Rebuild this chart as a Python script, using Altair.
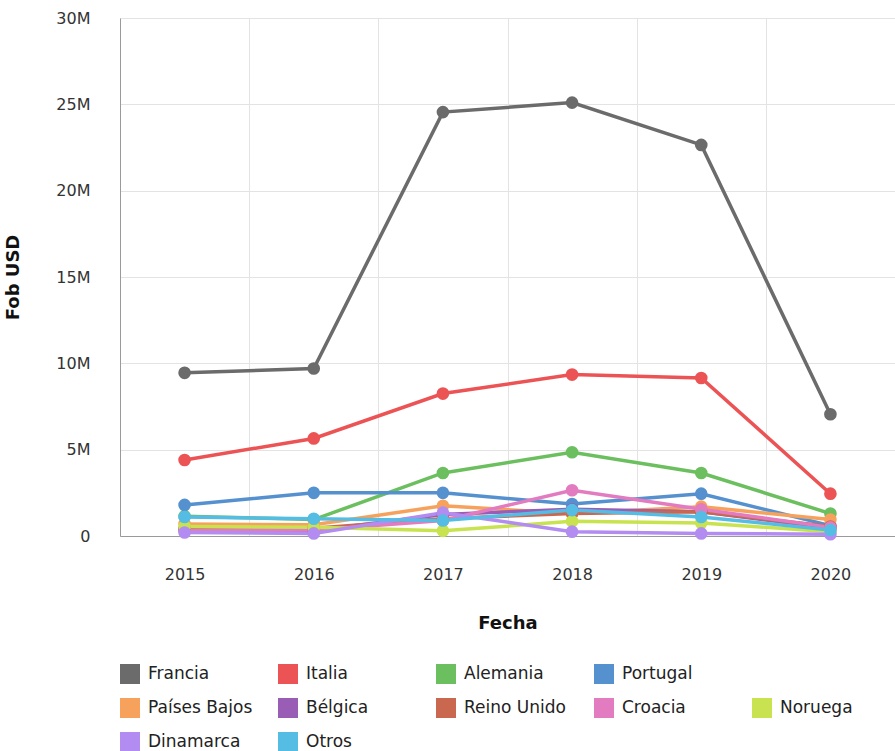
import altair as alt
import pandas as pd

years = ["2015", "2016", "2017", "2018", "2019", "2020"]
countries = ["Francia", "Italia", "Alemania", "Portugal", "Países Bajos", "Bélgica",
             "Reino Unido", "Croacia", "Noruega", "Dinamarca", "Otros"]
colors = ["#6b6b6b", "#ec5355", "#6cbf5e", "#5591cf", "#f7a25c", "#9a5db5",
          "#c9684f", "#e27bc0", "#c8e34f", "#b28cf0", "#55bde4"]

# values in millions of USD
francia = [9.45, 9.7, 24.55, 25.1, 22.65, 7.05]
italia = [4.4, 5.65, 8.25, 9.35, 9.15, 2.45]
alemania = [1.15, 0.95, 3.65, 4.85, 3.65, 1.3]
portugal = [1.8, 2.5, 2.5, 1.85, 2.45, 0.6]
paises_bajos = [0.7, 0.65, 1.75, 1.3, 1.7, 0.95]
belgica = [0.35, 0.3, 1.25, 1.55, 1.4, 0.45]
reino_unido = [0.4, 0.45, 1.0, 1.3, 1.4, 0.55]
croacia = [0.3, 0.35, 0.9, 2.65, 1.55, 0.5]
noruega = [0.55, 0.5, 0.3, 0.85, 0.75, 0.25]
dinamarca = [0.2, 0.15, 1.35, 0.25, 0.15, 0.1]
otros = [1.1, 1.0, 0.9, 1.5, 1.1, 0.35]

series = [francia, italia, alemania, portugal, paises_bajos, belgica,
          reino_unido, croacia, noruega, dinamarca, otros]

rows = []
for c, vals in zip(countries, series):
    for y, v in zip(years, vals):
        rows.append({"Fecha": y, "País": c, "Fob": v * 1e6})
df = pd.DataFrame(rows)

# blank slot so the legend wraps like the original (4 items on first row)
legend_domain = countries[:4] + [" "] + countries[4:]
legend_range = colors[:4] + ["transparent"] + colors[4:]

FONT = "DejaVu Sans"
common = dict(labelFont=FONT, labelFontSize=16, labelColor="#333333",
              titleFont=FONT, titleFontSize=18, titleFontWeight="bold",
              titleColor="#111111", ticks=False, domainColor="#9a9a9a",
              gridColor="#e3e3e3")

x = alt.X("Fecha:O", title="Fecha",
          scale=alt.Scale(type="band", paddingInner=0, paddingOuter=0),
          axis=alt.Axis(tickBand="extent", grid=True, labelAngle=0,
                        labelPadding=30, titlePadding=32, **common))
y = alt.Y("Fob:Q", title="Fob USD",
          scale=alt.Scale(domain=[0, 30e6], nice=False),
          axis=alt.Axis(values=[0, 5e6, 10e6, 15e6, 20e6, 25e6, 30e6],
                        labelExpr="datum.value == 0 ? '0' : (datum.value/1e6) + 'M'",
                        labelPadding=30, titleX=-98, titleY=259, **common))
color = alt.Color("País:N",
                  scale=alt.Scale(domain=legend_domain, range=legend_range),
                  sort=legend_domain,
                  legend=alt.Legend(title=None, orient="none", legendX=0, legendY=646,
                                    direction="horizontal", columns=5, gridAlign="all",
                                    symbolType="square", symbolSize=400,
                                    symbolStrokeWidth=0, symbolOpacity=1,
                                    labelFontSize=17, labelFont=FONT,
                                    labelColor="#222222", labelOffset=8,
                                    columnPadding=25, rowPadding=14, labelLimit=200))

base = alt.Chart(df).encode(x=x, y=y, color=color)
lines = base.mark_line(strokeWidth=3.5)
points = base.mark_circle(size=160, opacity=1)

chart = (lines + points).properties(
    width=775, height=518,
    background="white",
    autosize=alt.AutoSizeParams(type="none"),
    padding={"left": 120, "top": 18, "right": 0, "bottom": 215},
).configure_view(stroke=None)

chart.save("out.html", embed_options={"renderer": "svg", "actions": False})
